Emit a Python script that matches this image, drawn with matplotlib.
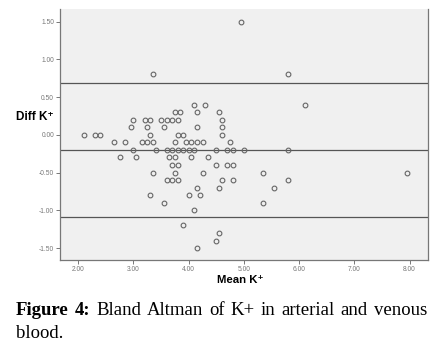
import matplotlib
matplotlib.use('Agg')
import matplotlib.pyplot as plt

# Bland-Altman data: mean of arterial/venous K+ vs difference
mean_k = [
    4.95,
    3.35, 5.8,
    4.1, 4.3, 6.1,
    3.75, 3.85, 4.15, 4.55,
    3.0, 3.2, 3.3, 3.5, 3.6, 3.7, 3.8, 4.6,
    2.95, 3.25, 3.55, 4.15, 4.6,
    2.1, 2.3, 2.4, 3.3, 3.8, 3.9, 4.6,
    2.65, 2.85, 3.15, 3.25, 3.35, 3.75, 3.95, 4.05, 4.15, 4.25, 4.75,
    3.0, 3.4, 3.6, 3.7, 3.8, 3.9, 4.0, 4.1, 4.5, 4.7, 4.8, 5.0, 5.8,
    2.75, 3.05, 3.65, 3.75, 4.05, 4.35,
    3.7, 3.8, 4.5, 4.7, 4.8,
    3.35, 3.75, 4.25, 5.35, 7.95,
    3.6, 3.7, 3.8, 4.6, 4.8, 5.8,
    4.15, 4.55, 5.55,
    3.3, 4.0, 4.2,
    3.55, 5.35,
    4.1,
    3.9,
    4.55,
    4.5,
    4.15,
]
diff_k = [
    1.5,
    0.8, 0.8,
    0.4, 0.4, 0.4,
    0.3, 0.3, 0.3, 0.3,
    0.2, 0.2, 0.2, 0.2, 0.2, 0.2, 0.2, 0.2,
    0.1, 0.1, 0.1, 0.1, 0.1,
    0.0, 0.0, 0.0, 0.0, 0.0, 0.0, 0.0,
    -0.1, -0.1, -0.1, -0.1, -0.1, -0.1, -0.1, -0.1, -0.1, -0.1, -0.1,
    -0.2, -0.2, -0.2, -0.2, -0.2, -0.2, -0.2, -0.2, -0.2, -0.2, -0.2, -0.2, -0.2,
    -0.3, -0.3, -0.3, -0.3, -0.3, -0.3,
    -0.4, -0.4, -0.4, -0.4, -0.4,
    -0.5, -0.5, -0.5, -0.5, -0.5,
    -0.6, -0.6, -0.6, -0.6, -0.6, -0.6,
    -0.7, -0.7, -0.7,
    -0.8, -0.8, -0.8,
    -0.9, -0.9,
    -1.0,
    -1.2,
    -1.3,
    -1.4,
    -1.5,
]

# mean difference and limits of agreement
ref_lines = [0.69, -0.2, -1.09]

x_ticks = [2, 3, 4, 5, 6, 7, 8]
y_ticks = [-1.5, -1.0, -0.5, 0.0, 0.5, 1.0, 1.5]

W, H = 444, 345
fig = plt.figure(figsize=(W / 100, H / 100), dpi=100)
fig.patch.set_facecolor('white')

ax = fig.add_axes([60.3 / W, 1 - 260 / H, (428 - 60.3) / W, (260 - 9) / H])
ax.set_facecolor('#f0f0f0')

for yv in ref_lines:
    ax.axhline(yv, color='#555555', lw=0.9, zorder=1)

ax.plot(mean_k, diff_k, linestyle='none', marker='o', markersize=3.4,
        markerfacecolor='none', markeredgecolor='#666666', markeredgewidth=0.8, zorder=2)

ax.set_xlim(1.674, 8.335)
ax.set_ylim(-1.658, 1.666)
ax.set_xticks(x_ticks)
ax.set_yticks(y_ticks)
ax.set_xticklabels(['%.2f' % v for v in x_ticks])
ax.set_yticklabels(['%.2f' % v for v in y_ticks])
ax.tick_params(length=3, width=0.7, color='#777777', labelsize=4.8,
               labelcolor='#777777', pad=1.5)
for lbl in ax.get_xticklabels() + ax.get_yticklabels():
    lbl.set_family('Liberation Sans')

ax.spines['top'].set_visible(False)
for s in ['left', 'bottom', 'right']:
    ax.spines[s].set_color('#777777')
    ax.spines[s].set_linewidth(0.9)

lab_font = ['Liberation Sans', 'DejaVu Sans']
fig.text(54 / W, 1 - 117 / H, 'Diff K\u207a', ha='right', va='center',
         fontsize=8.5, fontweight='bold', family=lab_font)
fig.text(240 / W, 1 - 280 / H, 'Mean K\u207a', ha='center', va='center',
         fontsize=8.2, fontweight='bold', family=lab_font)

# justified caption underneath
line1 = [('Figure', 'bold'), ('4:', 'bold'), ('Bland', 'normal'), ('Altman', 'normal'),
         ('of', 'normal'), ('K+', 'normal'), ('in', 'normal'), ('arterial', 'normal'),
         ('and', 'normal'), ('venous', 'normal')]
cap_left, cap_right = 16, 427
cap_size = 13.5
texts = []
for word, wt in line1:
    t = fig.text(0, 1 - 315 / H, word, ha='left', va='baseline', fontsize=cap_size,
                 fontweight=wt, family='Liberation Serif')
    texts.append(t)
fig.text(cap_left / W, 1 - 338 / H, 'blood.', ha='left', va='baseline', fontsize=cap_size,
         family='Liberation Serif')

fig.canvas.draw()
renderer = fig.canvas.get_renderer()
widths = [t.get_window_extent(renderer).width for t in texts]
gap = (cap_right - cap_left - sum(widths)) / (len(texts) - 1)
x = cap_left
for t, w in zip(texts, widths):
    t.set_x(x / W)
    x += w + gap

fig.savefig('out.png', dpi=100, facecolor='white')
